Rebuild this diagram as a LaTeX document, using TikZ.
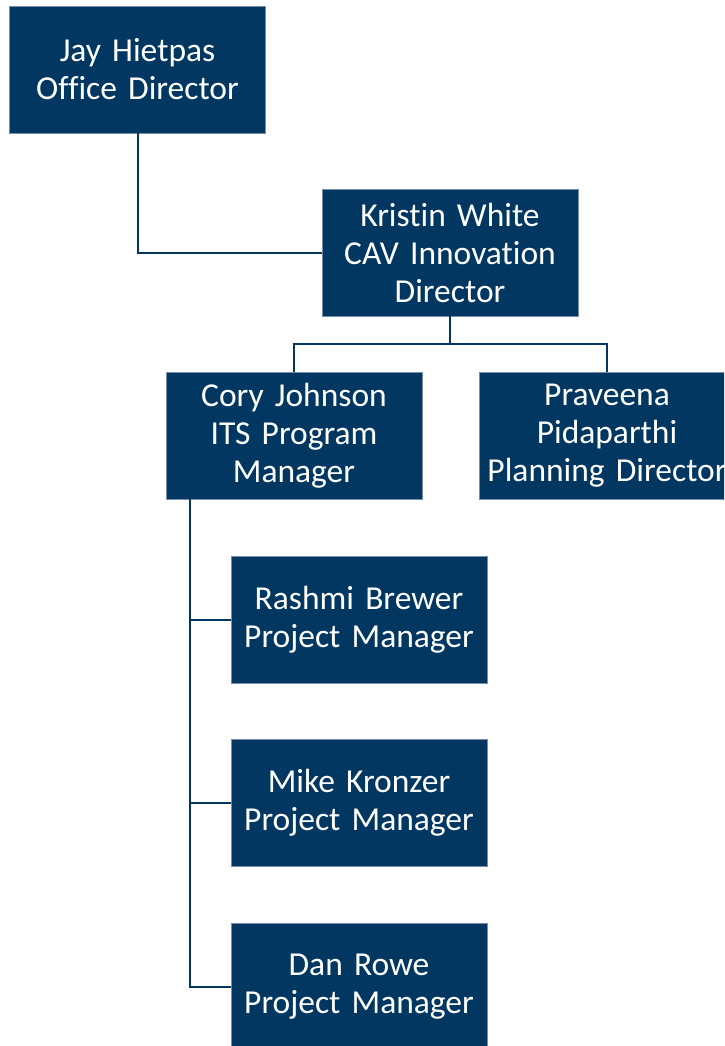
\documentclass[tikz,border=0pt]{standalone}
\usepackage{fontspec}
\setmainfont[WordSpace=0.6, Ligatures=NoCommon]{Carlito}
\definecolor{boxblue}{RGB}{2,55,98}
\definecolor{rimblue}{RGB}{120,142,168}
\tikzset{
  person/.style={fill=boxblue, draw=rimblue, line width=0.6pt, text=white,
    minimum width=256pt, minimum height=127pt, text width=256pt, align=center,
    inner sep=0pt, font=\fontsize{33.5}{38}\selectfont},
  link/.style={draw=boxblue, line width=2pt}
}
\begin{document}
\begin{tikzpicture}[x=1pt,y=-1pt]
                    \path[use as bounding box, clip] (0,0) rectangle (724,1046);
                    \fill[white] (0,0) rectangle (724,1046);

                    \node[person] (jay) at (137.5,69.5) {Jay Hietpas\\Office Director};
                    \node[person] (kristin) at (450,252.5) {Kristin White\\CAV Innovation\\Director};
                    \node[person] (cory) at (294,436) {Cory Johnson\\ITS Program\\Manager};
                    \node[person] (praveena) at (607,436) {Praveena\\Pidaparthi\\Planning Director};
                    \node[person] (rashmi) at (359,619.5) {Rashmi Brewer\\Project Manager};
                    \node[person] (mike) at (359,803) {Mike Kronzer\\Project Manager};
                    \node[person] (dan) at (359,986.5) {Dan Rowe\\Project Manager};

                    \coordinate (kbar) at (450,344);
                    \coordinate (trunk) at (190,499);

                    \draw[link] (jay.south) |- (kristin.west);
                    \draw[link] (kristin.south) -- (kbar);
                    \draw[link] (cory.north) |- (kbar) -| (praveena.north);
                    \draw[link] (trunk) |- (dan.west);
                    \draw[link] (trunk |- rashmi.west) -- (rashmi.west);
                    \draw[link] (trunk |- mike.west) -- (mike.west);
\end{tikzpicture}
\end{document}
